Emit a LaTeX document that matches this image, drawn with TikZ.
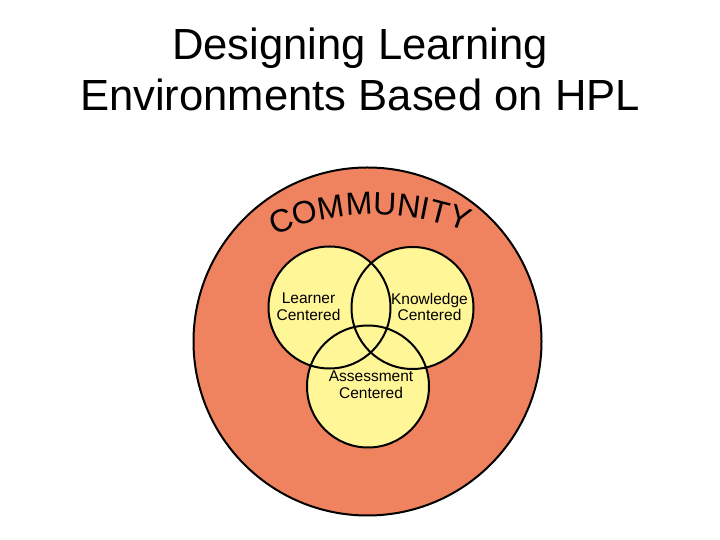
\documentclass[tikz,border=0pt]{standalone}
\usepackage{fontspec}
\setmainfont{Liberation Sans}
\usepackage{tikz}
\usetikzlibrary{calc,decorations.text}

\definecolor{commorange}{RGB}{239,130,95}
\definecolor{venyellow}{RGB}{255,246,152}

\begin{document}
\begin{tikzpicture}[x=1pt,y=1pt,
        titletext/.style={anchor=base, inner sep=0pt, font=\fontsize{43.6}{52}\selectfont},
        circletext/.style={align=center, inner sep=0pt, font=\fontsize{15.5}{16.5}\selectfont},
        ring/.style={draw=black, line width=2pt}]
        \fill[white] (0,0) rectangle (720,540);
        \useasboundingbox (0,0) rectangle (720,540);

        \node[titletext] (title1) at (360,480) {Designing Learning};
        \node[titletext] (title2) at (360,429) {Environments Based on HPL};

        \coordinate (comm) at (367.5,198.5);
        \coordinate (learn) at (329.5,232.5);
        \coordinate (know) at (412.5,232);
        \coordinate (assess) at (368,153.5);

        \fill[commorange] (comm) circle (174);
        \draw[ring] (comm) circle (174);

        \fill[venyellow] (learn) circle (61) (know) circle (61) (assess) circle (61);
        \draw[ring] (learn) circle (61) (know) circle (61) (assess) circle (61);

        \path[decorate, decoration={text along path, text align=center,
            text={|\fontsize{32}{32}\selectfont|COMMUNITY}}]
            ($(374.6,75.4)+(126:250)$) arc[start angle=126, end angle=56, radius=250];

        \node[circletext] (learner) at ($(learn)+(-21,1)$) {Learner\\Centered};
        \node[circletext] (knowledge) at ($(know)+(17,1)$) {Knowledge\\Centered};
        \node[circletext] (assessment) at ($(assess)+(3,2)$) {Assessment\\Centered};
    \end{tikzpicture}
\end{document}
